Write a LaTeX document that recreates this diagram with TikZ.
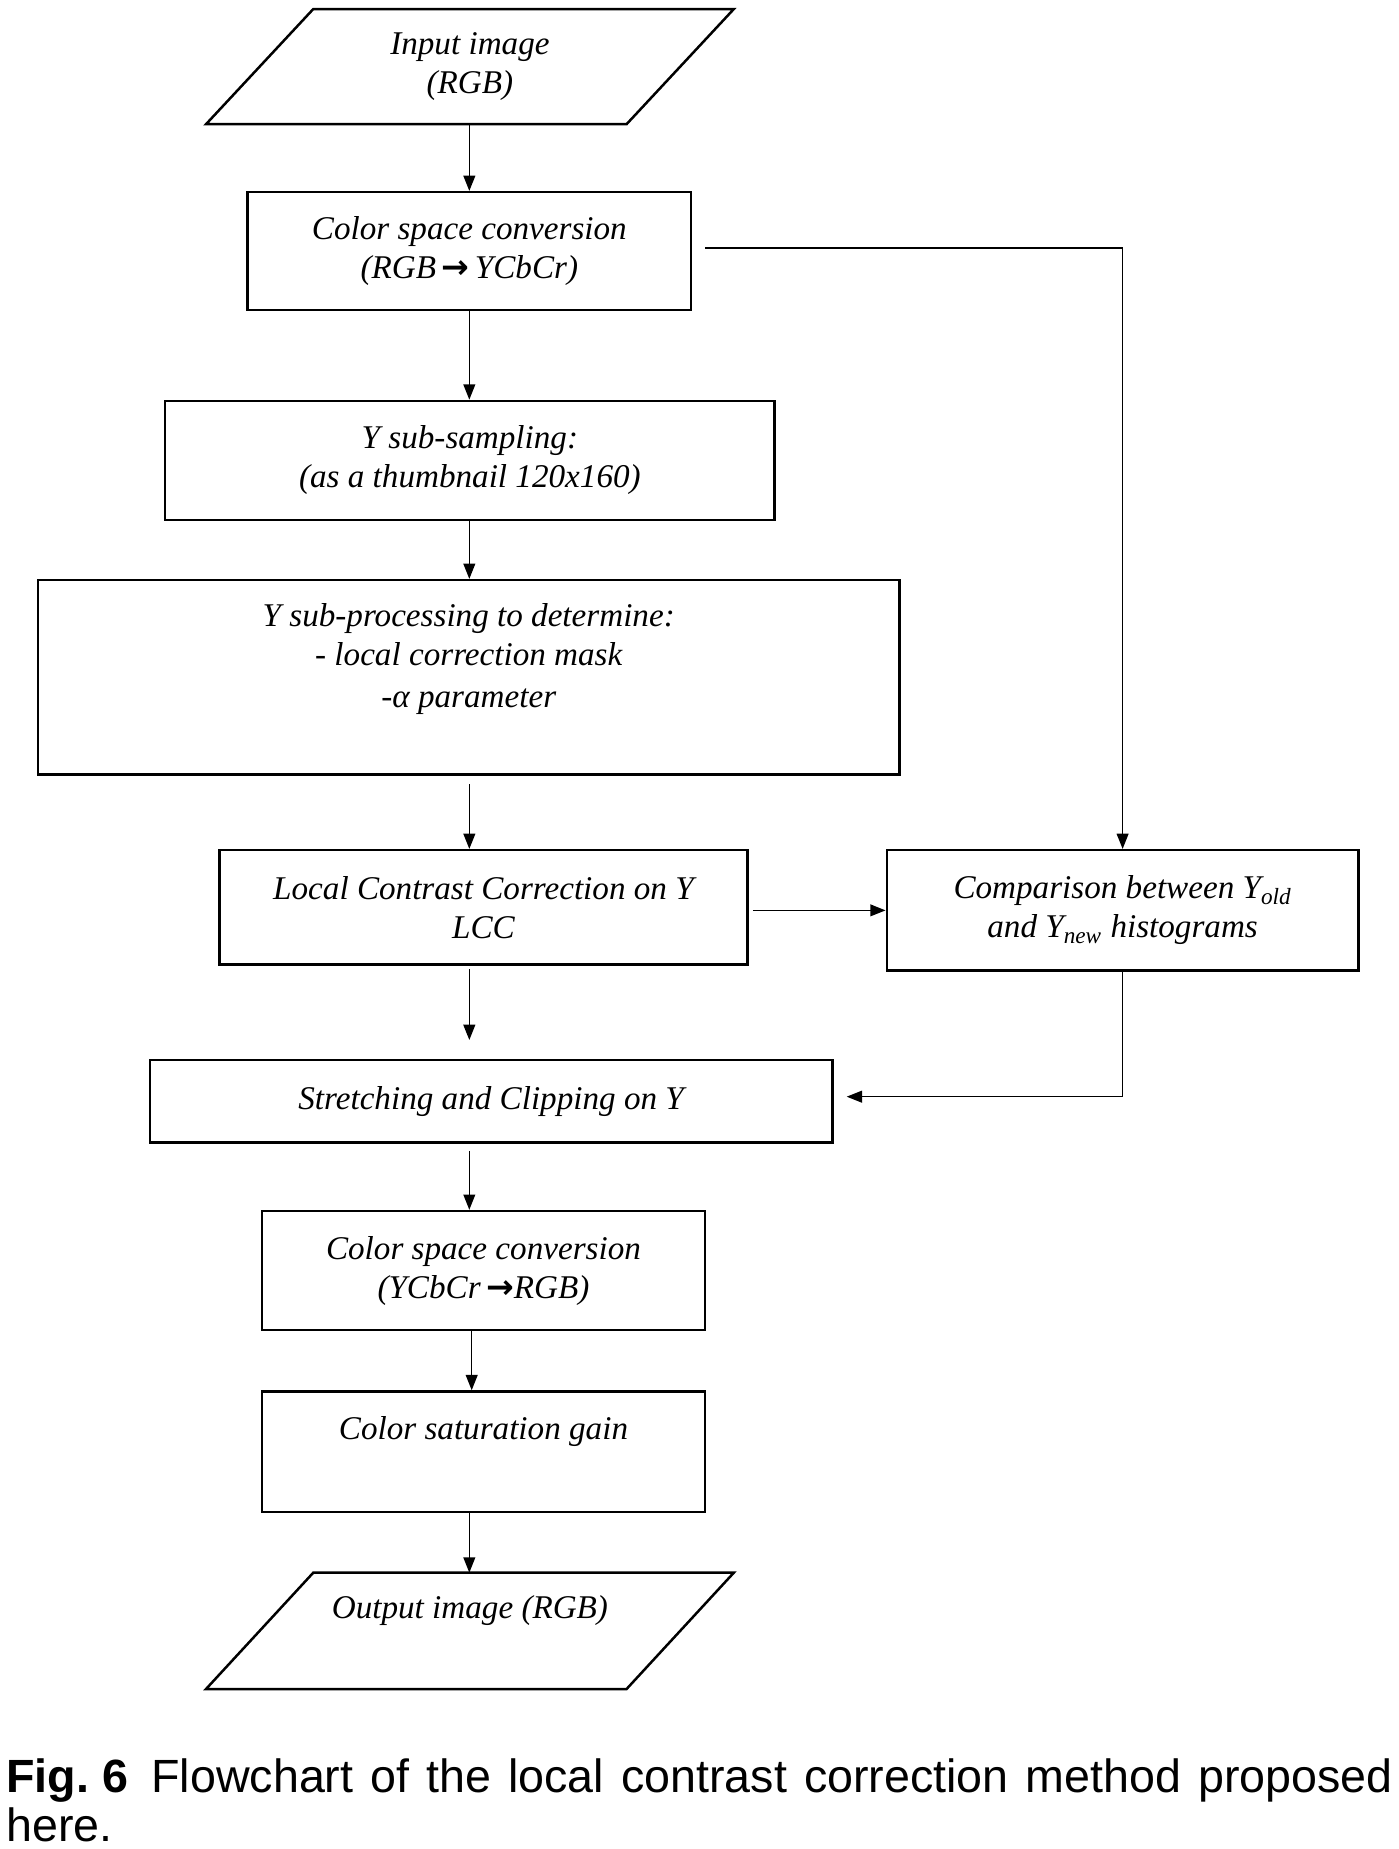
\documentclass[tikz,border=0pt]{standalone}
\usepackage{fontspec}
\setmainfont{Liberation Serif}
\newfontfamily\capfont{Liberation Sans}
\newfontfamily\arrfont{DejaVu Sans}
\usetikzlibrary{arrows.meta}
\newcommand\flowfont{\itshape\fontsize{16}{18.8}\selectfont}
\newcommand\bigarr{{\arrfont\bfseries →}}
\begin{document}
\begin{tikzpicture}[x=0.02cm, y=-0.02cm,
  box/.style={draw, line width=1.2pt, rectangle, inner sep=0pt, align=center, font=\flowfont},
  io/.style={inner sep=0pt, align=center, font=\flowfont},
  ioline/.style={line width=1.2pt, line join=miter},
  arr/.style={line width=0.75pt, -{Triangle[length=0.26cm,width=0.2cm]}}]
\useasboundingbox (0,0) rectangle (1186,1568);
\coordinate (spine) at (398,0);
\coordinate (spineb) at (400,0);

% nodes
\node[io, minimum width=8.94cm, minimum height=1.94cm] (in) at (398.5,56.5) {Input image\\(RGB)};
\draw[ioline] (in.south west) -- ([xshift=-1.82cm]in.south east) -- (in.north east) -- ([xshift=1.82cm]in.north west) -- cycle;

\node[box, minimum width=7.52cm, minimum height=2cm] (csc1) at (398,213) {Color space conversion\\(RGB\,\bigarr\,YCbCr)};
\node[box, minimum width=10.34cm, minimum height=2.02cm] (subs) at (398.5,390.5) {Y sub-sampling:\\(as a thumbnail 120x160)};
\node[box, minimum width=14.62cm, minimum height=3.3cm] (subp) at (397.5,574.5) {Y sub-processing to determine:\\- local correction mask\\[1.5pt]-α parameter\\[2pt]\mbox{}};
\node[box, minimum width=8.96cm, minimum height=1.94cm] (lcc) at (410,769.5) {Local Contrast Correction on Y\\LCC};
\node[box, minimum width=8cm, minimum height=2.04cm] (cmp) at (952,772) {Comparison between Y\textsubscript{old}\\and Y\textsubscript{new} histograms};
\node[box, minimum width=11.58cm, minimum height=1.4cm] (str) at (416.5,934) {Stretching and Clipping on Y};
\node[box, minimum width=7.52cm, minimum height=2.02cm] (csc2) at (410,1077.5) {Color space conversion\\(YCbCr\,\bigarr RGB)};
\node[box, minimum width=7.52cm, minimum height=2.04cm] (sat) at (410,1231) {Color saturation gain\\[4pt]\mbox{}};
\node[io, minimum width=8.94cm, minimum height=1.96cm] (out) at (398.5,1383) {Output image (RGB)\\[4pt]\mbox{}};
\draw[ioline] (out.south west) -- ([xshift=-1.82cm]out.south east) -- (out.north east) -- ([xshift=1.82cm]out.north west) -- cycle;

% connectors
\draw[arr] (in.south -| spine) -- (csc1.north -| spine);
\draw[arr] (csc1.south -| spine) -- (subs.north -| spine);
\draw[arr] (subs.south -| spine) -- (subp.north -| spine);
\draw[arr, shorten <=0.14cm] (subp.south -| spine) -- (lcc.north -| spine);
\draw[arr, shorten <=0.22cm] ([yshift=0.05cm]csc1.east) -| (cmp.north);
\draw[arr, shorten <=0.07cm] (lcc.east |- cmp.west) -- (cmp.west);
\draw[arr, shorten <=0.06cm, shorten >=0.32cm] (lcc.south -| spine) -- (str.north -| spine);
\draw[arr, shorten >=0.22cm] (cmp.south) |- ([yshift=0.08cm]str.east);
\draw[arr, shorten <=0.12cm] (str.south -| spine) -- (csc2.north -| spine);
\draw[arr] (csc2.south -| spineb) -- (sat.north -| spineb);
\draw[arr] (sat.south -| spine) -- (out.north -| spine);

% caption
\node[anchor=north west, inner sep=0pt, text width=23.52cm, align=justify,
      font=\capfont\fontsize{22.5}{23.5}\selectfont] (cap) at (5,1491)
  {\textbf{Fig.\hspace{0.28em}6}\enspace Flowchart of the local contrast correction method proposed here.};
\end{tikzpicture}
\end{document}
